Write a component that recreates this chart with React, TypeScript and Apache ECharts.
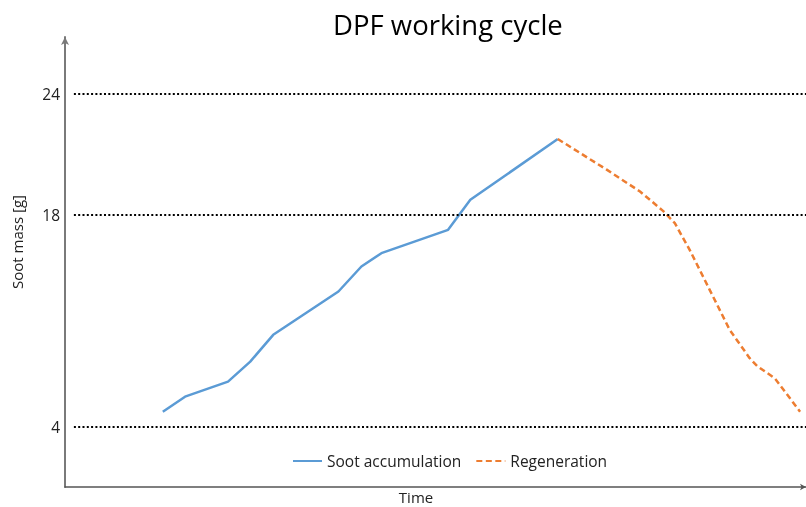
import React, { useEffect, useRef } from "react";
import * as echarts from "echarts";

// Time axis (arbitrary units 0..100, unlabeled)
const accumulationTime = [13.2, 16.2, 22.0, 25.0, 28.1, 36.9, 40.0, 42.7, 51.7, 54.7, 66.5];
const sootAccumulation = [4.92, 5.82, 6.72, 7.92, 9.53, 12.13, 13.63, 14.43, 15.83, 17.63, 21.28];

const regenerationTime = [66.5, 73.1, 77.6, 80.7, 82.3, 84.3, 87.0, 89.7, 92.4, 93.4, 95.8, 99.2];
const regeneration = [21.28, 19.44, 18.13, 16.97, 16.23, 14.63, 12.23, 9.83, 8.13, 7.66, 6.92, 4.92];

// reference levels (axis values) and the labels printed at them
const levelValues = [4, 16.72, 24];
const levelLabels = ["4", "18", "24"];

const FONT = "'Open Sans', 'Noto Sans', sans-serif";

export default function App() {
  const ref = useRef<HTMLDivElement>(null);
  useEffect(() => {
    if (!ref.current) return;
    const chart = echarts.init(ref.current, undefined, { renderer: "svg" });
    const labelMap: Record<string, string> = {};
    levelValues.forEach((v, i) => (labelMap[String(v)] = levelLabels[i]));
    chart.setOption({
      animation: false,
      textStyle: { fontFamily: FONT },
      title: {
        text: "DPF working cycle",
        left: 328,
        top: 5,
        textStyle: { fontFamily: FONT, fontSize: 27.5, fontWeight: "normal", color: "#000" },
      },
      legend: {
        left: 287,
        top: 448,
        itemWidth: 29,
        itemHeight: 14,
        itemGap: 14,
        itemStyle: { opacity: 0 },
        textStyle: { fontFamily: FONT, fontSize: 15.5, color: "#222" },
        data: ["Soot accumulation", "Regeneration"],
      },
      grid: { left: 65, right: 0, top: 37, bottom: 20, containLabel: false },
      xAxis: {
        type: "value",
        min: 0,
        max: 100,
        axisLine: {
          show: true,
          lineStyle: { color: "#555", width: 1.5 },
          symbol: ["none", "arrow"],
          symbolSize: [5, 6],
        },
        axisTick: { show: false },
        axisLabel: { show: false },
        splitLine: { show: false },
      },
      yAxis: {
        type: "value",
        min: 0.4,
        max: 27.4,
        axisLine: {
          show: true,
          lineStyle: { color: "#7a7a7a", width: 2 },
          symbol: ["none", "arrow"],
          symbolSize: [6, 8],
        },
        axisTick: { show: false },
        splitLine: { show: false },
        axisLabel: {
          show: true,
          customValues: levelValues,
          margin: 5,
          fontFamily: FONT,
          fontSize: 15.5,
          color: "#222",
          formatter: (v: number) => labelMap[String(v)] ?? "",
        },
      },
      graphic: [
        {
          type: "text",
          x: 17,
          y: 242,
          rotation: Math.PI / 2,
          style: {
            text: "Soot mass [g]",
            font: `15px ${FONT}`,
            fill: "#222",
            align: "center",
            verticalAlign: "middle",
          },
        },
        {
          type: "text",
          x: 416,
          y: 497,
          style: {
            text: "Time",
            font: `15px ${FONT}`,
            fill: "#222",
            align: "center",
            verticalAlign: "middle",
          },
        },
      ],
      series: [
        {
          name: "Soot accumulation",
          type: "line",
          symbol: "none",
          data: accumulationTime.map((t, i) => [t, sootAccumulation[i]]),
          lineStyle: { color: "#5B9BD5", width: 2.5 },
          itemStyle: { color: "#5B9BD5" },
          z: 3,
          markLine: {
            silent: true,
            symbol: "none",
            label: { show: false },
            lineStyle: { color: "#000", width: 2, type: [2, 2.3] },
            data: levelValues.map((v) => [
              { coord: [1.2, v] },
              { coord: [100, v] },
            ]),
          },
        },
        {
          name: "Regeneration",
          type: "line",
          symbol: "none",
          data: regenerationTime.map((t, i) => [t, regeneration[i]]),
          lineStyle: { color: "#ED7D31", width: 2.5, type: [6, 3.5] },
          itemStyle: { color: "#ED7D31" },
          z: 3,
        },
      ],
    });
    return () => chart.dispose();
  }, []);
  return (
    <div
      ref={ref}
      style={{ position: "fixed", left: 0, top: 0, width: 806, height: 507 }}
    />
  );
}
